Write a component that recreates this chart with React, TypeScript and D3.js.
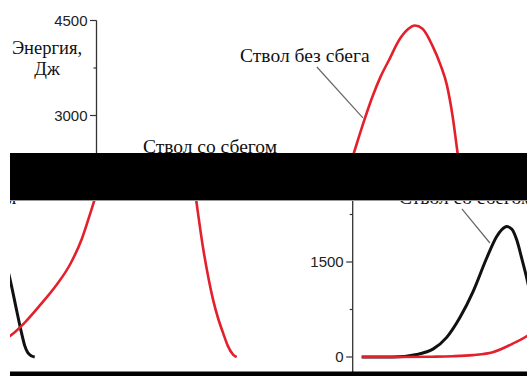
import React from 'react';
import * as d3 from 'd3';

// energy curves, x in arbitrary length units, energy in J
const redX = [2.25, 10, 20, 25, 30, 35, 40, 43.75, 47.5, 51.25, 55, 58.75, 61.5, 64, 66.6, 69, 71, 73, 75.9, 78, 79.6, 81.5, 84, 86, 87.6, 89, 90.25, 91.9, 93.15, 94.4, 95.65, 96.9, 98, 99.4, 100.25];
const redE = [0, 0, 5, 12, 30, 75, 210, 340, 560, 830, 1120, 1480, 1860, 2340, 2860, 3300, 3610, 3860, 4215, 4370, 4420, 4370, 4100, 3800, 3480, 3000, 2420, 1700, 1260, 890, 600, 370, 180, 35, 0];

const blackX = [2.25, 10, 16, 20.15, 23.5, 26.8, 30.15, 33.5, 36, 37.25, 38.5, 39.75, 41, 42.25, 43.5, 45.25, 46.5, 47.25, 48, 49, 49.75];
const blackE = [0, 0, 40, 128, 310, 623, 1041, 1563, 1903, 2010, 2060, 2020, 1850, 1560, 1250, 731, 369, 180, 71, 15, 0];

const majorTicks = [0, 1500, 3000, 4500];
const minorTicks = [750, 2250, 3750];
const yTitle = ['Энергия,', 'Дж'];

// labels: text position in data units and leader [x1, E1, x2, E2]
const labelNoTaper = { text: 'Ствол без сбега', x: 35.9, e: 3845, leader: [55.1, 3766, 66.6, 2961] };
const labelTaper = { text: 'Ствол со сбегом', x: 11.6, e: 2408, leader: [27.3, 2337, 34.3, 1800] };

const W = 527, H = 376;
const AXIS_X = 96.5;
const SHIFT_X = 256.2, SHIFT_Y = 51.5, WRAP = 517;

const x = d3.scaleLinear().domain([0, 100]).range([0, 400]);
const y = d3.scaleLinear().domain([0, 4500]).range([305.5, 20.5]);

const line = d3.line<[number, number]>()
    .x(d => x(d[0]))
    .y(d => y(d[1]))
    .curve(d3.curveMonotoneX);

const redPts = redX.map((v, i) => [v, redE[i]] as [number, number]);
const blackPts = blackX.map((v, i) => [v, blackE[i]] as [number, number]);

const serif = '"Liberation Serif", "Times New Roman", serif';
const sans = '"Liberation Sans", Arial, sans-serif';

function Plot() {
    return (
        <g transform={`translate(${AXIS_X},0)`}>
            {/* y axis */}
            <line x1={0} x2={0} y1={y(4500)} y2={y(0) + 20} stroke="#333" strokeWidth={1.3} />
            {majorTicks.map(t => (
                <g key={t} transform={`translate(0,${y(t)})`}>
                    <line x1={-6.5} x2={0} stroke="#333" strokeWidth={1.2} />
                    <text x={-9} dy="0.36em" textAnchor="end" fontFamily={sans} fontSize={15} fill="#222">{t}</text>
                </g>
            ))}
            {minorTicks.map(t => (
                <line key={t} x1={-3} x2={0} y1={y(t)} y2={y(t)} stroke="#333" strokeWidth={1.2} />
            ))}
            {yTitle.map((s, i) => (
                <text key={s} x={-49.5} y={53.5 + i * 21.5} textAnchor="middle" fontFamily={serif} fontSize={18.5} fill="#111">{s}</text>
            ))}

            {/* curves */}
            <path d={line(blackPts) || ''} fill="none" stroke="#111" strokeWidth={3} />
            <path d={line(redPts) || ''} fill="none" stroke="#e3202b" strokeWidth={2.6} />

            {/* labels */}
            {[labelNoTaper, labelTaper].map(l => (
                <g key={l.text}>
                    <line x1={x(l.leader[0])} y1={y(l.leader[1])} x2={x(l.leader[2])} y2={y(l.leader[3])} stroke="#666" strokeWidth={1.2} />
                    <text x={x(l.x)} y={y(l.e)} fontFamily={serif} fontSize={19.5} fill="#111">{l.text}</text>
                </g>
            ))}
        </g>
    );
}

export default function App() {
    return (
        <svg width={W} height={H} style={{ position: 'absolute', left: 0, top: 0, background: '#fff' }}>
            <defs>
                <clipPath id="topClip"><rect x={0} y={0} width={W} height={153} /></clipPath>
                <clipPath id="botClip"><rect x={10} y={200} width={WRAP} height={172} /></clipPath>
            </defs>
            <rect x={0} y={0} width={W} height={H} fill="#fff" />
            <g clipPath="url(#topClip)">
                <Plot />
            </g>
            <g clipPath="url(#botClip)">
                <g transform={`translate(${SHIFT_X},${SHIFT_Y})`}><Plot /></g>
                <g transform={`translate(${SHIFT_X - WRAP},${SHIFT_Y})`}><Plot /></g>
            </g>
            <rect x={10} y={153} width={W - 10} height={47} fill="#000" />
            <line x1={10} x2={W} y1={200.5} y2={200.5} stroke="#999" strokeWidth={1} />
            <rect x={10} y={371.5} width={W - 10} height={H - 371.5} fill="#000" />
        </svg>
    );
}
